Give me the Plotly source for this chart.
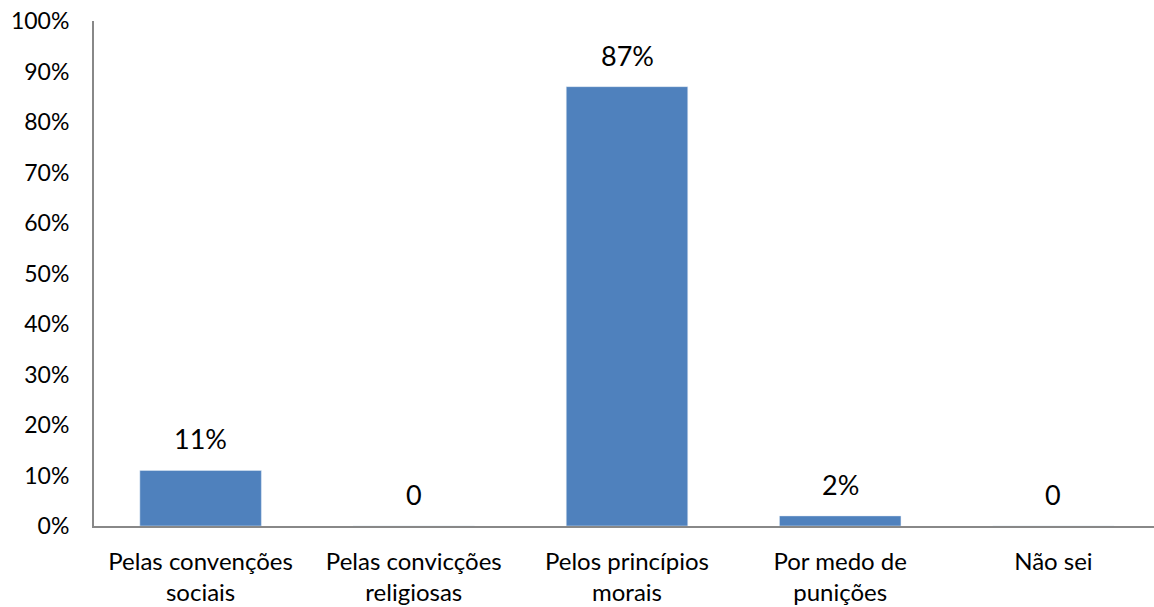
import plotly.graph_objects as go

categories = ["Pelas convenções<br>sociais", "Pelas convicções<br>religiosas", "Pelos princípios<br>morais", "Por medo de<br>punições", "Não sei"]
values = [11, 0, 87, 2, 0]
labels = ["11%", "0", "87%", "2%", "0"]
y_ticks = list(range(0, 101, 10))
y_tick_labels = [f"{t}%" for t in y_ticks]

FONT = "Lato"
fig = go.Figure(go.Bar(x=categories, y=values, marker_color="#4F81BD", width=0.57, hoverinfo="skip"))

for c, v, t in zip(categories, values, labels):
    fig.add_annotation(x=c, y=v, text=t, showarrow=False, yanchor="bottom", yshift=13,
                       font=dict(family=FONT, size=27, color="black"))

fig.update_layout(
    width=1166, height=607,
    margin=dict(l=94, r=6, t=21, b=81),
    plot_bgcolor="white", paper_bgcolor="white",
    showlegend=False,
    font=dict(family=FONT, size=24, color="black"),
)
fig.update_yaxes(range=[0, 100], tickvals=y_ticks, ticktext=y_tick_labels, showgrid=False,
                 showline=True, linecolor="#888888", linewidth=2, ticks="", ticklabelstandoff=18,
                 ticklabeloverflow="allow",
                 zeroline=False, automargin=False, tickfont=dict(family=FONT, size=23, color="black"))
fig.update_xaxes(showline=True, linecolor="#888888", linewidth=2, ticks="", showgrid=False,
                 automargin=False, ticklabelstandoff=13, ticklabeloverflow="allow",
                 tickfont=dict(family=FONT, size=24, color="black"), tickangle=0)
fig.write_html("out.html", config={"displayModeBar": False},
               post_script="document.body.style.margin='0';document.body.style.overflow='hidden';")
